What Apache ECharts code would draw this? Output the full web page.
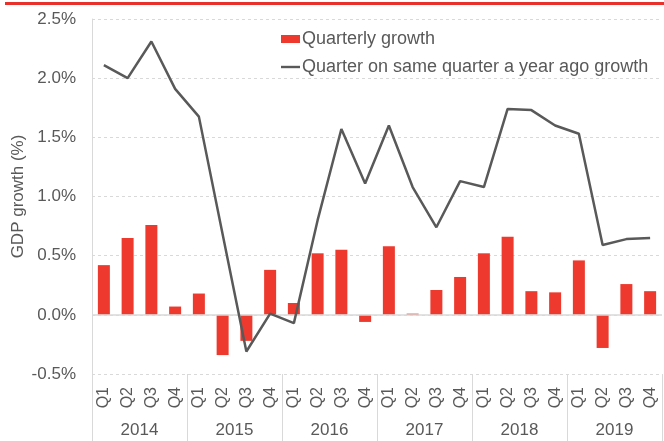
<!DOCTYPE html>
<html>
<head>
<meta charset="utf-8">
<script src="https://cdn.jsdelivr.net/npm/echarts@6/dist/echarts.min.js"></script>
<style>
  html, body { margin: 0; padding: 0; background: #fff; }
  #chart { width: 664px; height: 441px; }
</style>
</head>
<body>
<div id="chart"></div>
<script>
// 季度标签 / 年份
var quarters = ['Q1', 'Q2', 'Q3', 'Q4', 'Q1', 'Q2', 'Q3', 'Q4', 'Q1', 'Q2', 'Q3', 'Q4',
  'Q1', 'Q2', 'Q3', 'Q4', 'Q1', 'Q2', 'Q3', 'Q4', 'Q1', 'Q2', 'Q3', 'Q4']
var years = ['2014', '2015', '2016', '2017', '2018', '2019']
// 环比增长 (柱)
var quarterlyGrowth = [0.42, 0.65, 0.76, 0.07, 0.18, -0.34, -0.22, 0.38, 0.10, 0.52, 0.55, -0.06,
  0.58, 0.01, 0.21, 0.32, 0.52, 0.66, 0.20, 0.19, 0.46, -0.28, 0.26, 0.20]
// 同比增长 (线)
var yearOnYearGrowth = [2.11, 2.00, 2.31, 1.91, 1.675, 0.68, -0.31, 0.01, -0.07, 0.80, 1.57, 1.11,
  1.60, 1.08, 0.74, 1.13, 1.08, 1.74, 1.73, 1.60, 1.53, 0.59, 0.64, 0.65]
var yTicks = { min: -0.5, max: 2.5, step: 0.5 }

var textColor = '#595959'
var gridColor = '#d9d9d9'
var font = 'Liberation Sans, Arial, sans-serif'

var myChart = echarts.init(document.getElementById('chart'))
var option = {
  animation: false,
  textStyle: { fontFamily: font },
  graphic: [
    {
      type: 'rect',
      shape: { x: 5, y: 2, width: 660, height: 3 },
      style: { fill: '#e8312a' },
      silent: true
    }
  ],
  legend: {
    orient: 'vertical',
    left: 281,
    top: 30,
    padding: 0,
    itemGap: 10,
    itemWidth: 19,
    itemHeight: 8,
    textStyle: { color: textColor, fontSize: 18, fontFamily: font, padding: [0, 0, 0, -3] },
    data: [
      { name: 'Quarterly growth', icon: 'rect' },
      { name: 'Quarter on same quarter a year ago growth', icon: 'path://M0,0H19V2.4H0Z' }
    ]
  },
  grid: { left: 92, right: 2, top: 19, bottom: 67, containLabel: false, outerBoundsMode: 'none' },
  xAxis: [
    {
      type: 'category',
      data: quarters,
      position: 'bottom',
      axisLine: { show: false },
      axisTick: { show: false },
      axisLabel: {
        interval: 0,
        rotate: 90,
        margin: 13,
        color: textColor,
        fontSize: 16,
        fontFamily: font
      }
    },
    {
      type: 'category',
      data: years,
      position: 'bottom',
      gridIndex: 0,
      axisLine: { show: false },
      axisTick: {
        show: true,
        interval: 0,
        length: 67,
        lineStyle: { color: gridColor, width: 1 }
      },
      axisLabel: {
        interval: 0,
        margin: 48,
        color: textColor,
        fontSize: 17,
        fontFamily: font
      }
    }
  ],
  yAxis: {
    type: 'value',
    min: yTicks.min,
    max: yTicks.max,
    interval: yTicks.step,
    name: 'GDP growth (%)',
    nameLocation: 'middle',
    nameGap: 65,
    nameMoveOverlap: false,
    nameTextStyle: { color: textColor, fontSize: 17, fontFamily: font },
    axisLine: { show: true, lineStyle: { color: gridColor } },
    axisTick: { show: false },
    splitLine: { lineStyle: { color: gridColor, type: [3, 3] } },
    axisLabel: {
      margin: 16,
      color: textColor,
      fontSize: 17,
      fontFamily: font,
      formatter: function (v) { return v.toFixed(1) + '%' }
    }
  },
  series: [
    {
      name: 'Quarterly growth',
      type: 'bar',
      data: quarterlyGrowth,
      barWidth: 12,
      itemStyle: { color: '#ee3a2e' },
      markLine: {
        silent: true,
        symbol: 'none',
        label: { show: false },
        lineStyle: { color: gridColor, type: 'solid', width: 1.5 },
        data: [{ yAxis: 0 }]
      }
    },
    {
      name: 'Quarter on same quarter a year ago growth',
      type: 'line',
      data: yearOnYearGrowth,
      symbol: 'none',
      z: 5,
      lineStyle: { color: '#595959', width: 2.5 },
      itemStyle: { color: '#595959' }
    }
  ]
}
myChart.setOption(option)
window.addEventListener('resize', () => {
  myChart.resize()
})
</script>
</body>
</html>
